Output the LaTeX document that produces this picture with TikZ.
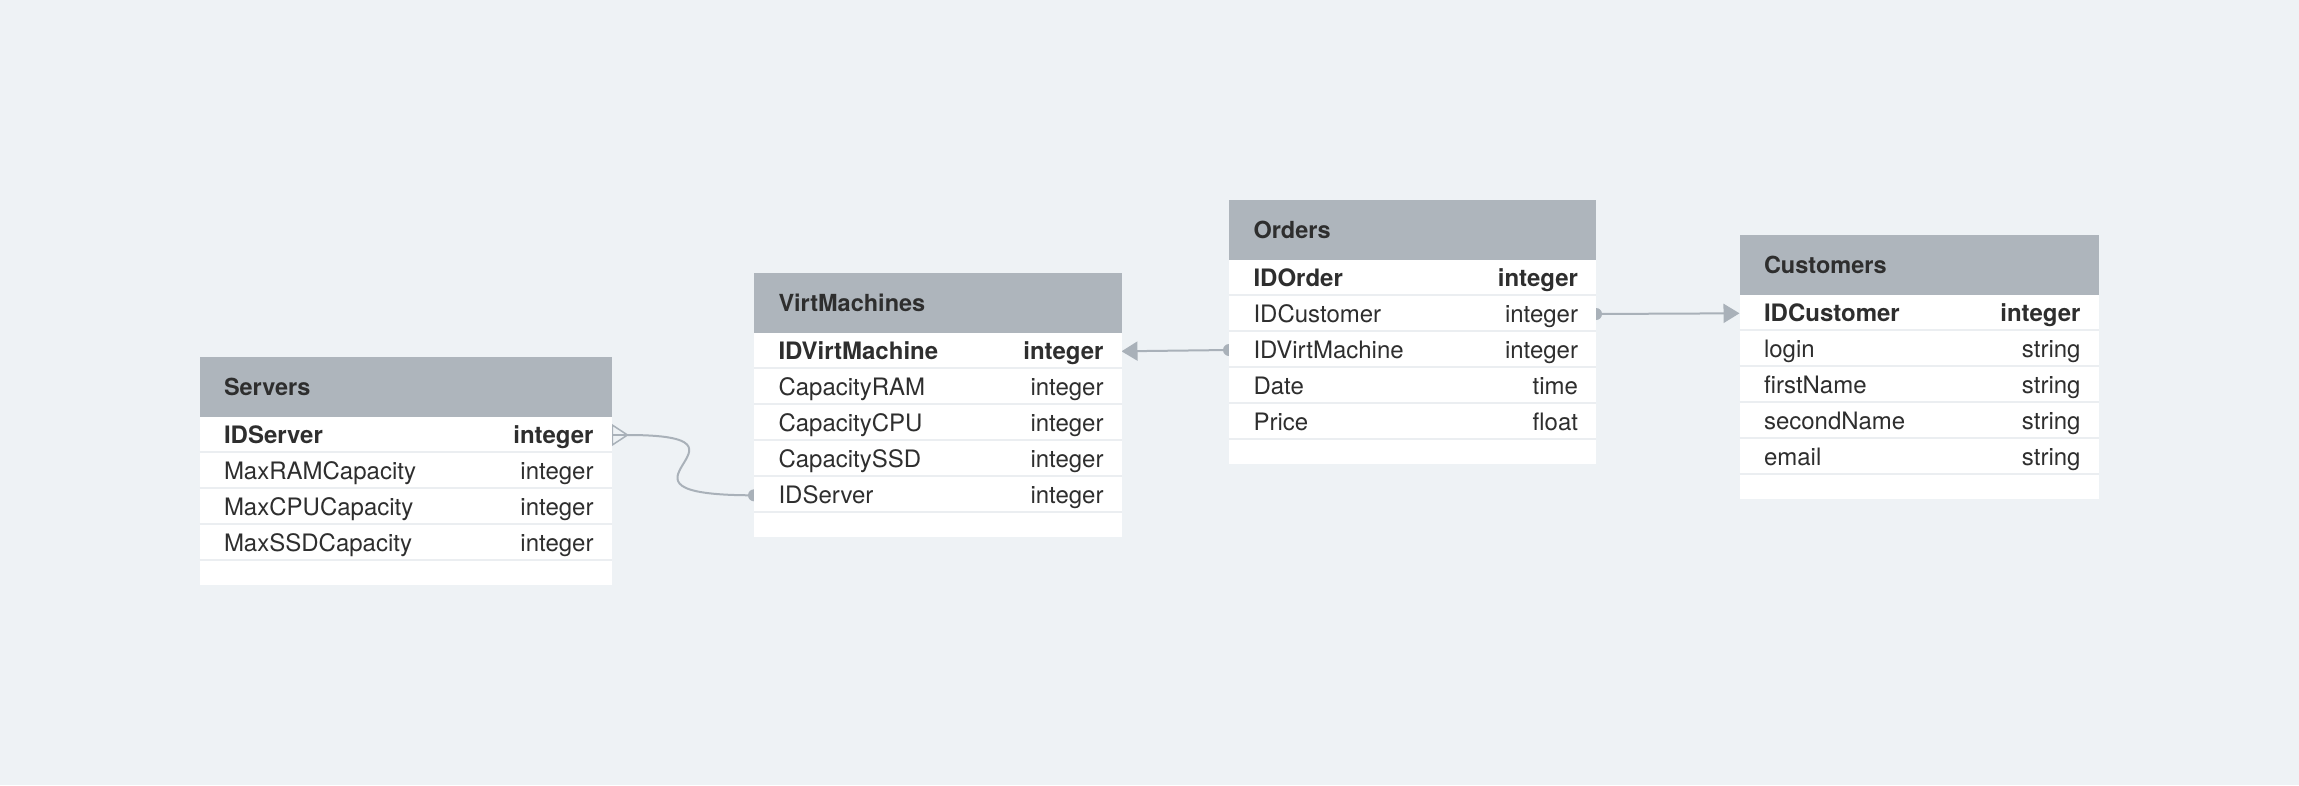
\documentclass[tikz,border=0pt]{standalone}
\usepackage{fontspec}
\setmainfont{TeX Gyre Heros}
\usetikzlibrary{calc,arrows.meta}
\definecolor{bgc}{HTML}{EEF2F5}
\definecolor{hdrc}{HTML}{AEB5BC}
\definecolor{connc}{HTML}{A9B1B9}
\definecolor{sepc}{HTML}{EBEEF1}
\definecolor{txtc}{HTML}{2E2E2E}
\pgfdeclarelayer{back}
\pgfdeclarelayer{links}
\pgfsetlayers{back,links,main}
\newcommand\erow[7]{%
  \node[rowbox, minimum width=#4] (#1) at (#2,#3) {};
  \node[txt, anchor=base west] (#1-f) at ($(#1.west)+(24.5,8.6)$) {#7{#5}};
  \node[txt, anchor=base east] (#1-t) at ($(#1.east)+(-18,8.6)$) {#7{#6}};
  \draw[sep] ($(#1.south west)+(0,-1)$) -- ($(#1.south east)+(0,-1)$);}
\newcommand\ehead[6]{% name, x, y, w, bodyheight, title
  \node[hdr, minimum width=#4] (#1) at (#2,#3) {};
  \node[ttl, anchor=base west] (#1-title) at ($(#1.west)+(24.5,8.4)$) {#6};
  \node[bodybox, minimum width=#4, minimum height=#5] (#1-body) at ($(#1.south west)$) {};}
\begin{document}
\begin{tikzpicture}[x=1pt,y=-1pt,
  hdr/.style={fill=hdrc, draw=none, inner sep=0, outer sep=0, anchor=north west, minimum height=60},
  bodybox/.style={fill=white, draw=none, inner sep=0, outer sep=0, anchor=north west},
  rowbox/.style={draw=none, inner sep=0, outer sep=0, anchor=north west, minimum height=36},
  txt/.style={inner sep=0, outer sep=0, text=txtc, font=\fontsize{24}{29}\selectfont},
  ttl/.style={txt, font=\fontsize{23.5}{28}\selectfont\bfseries},
  sep/.style={draw=sepc, line width=2pt},
  conn/.style={draw=connc, line width=2pt},
  crow/.style={draw=connc, line width=1.5pt},
  dotc/.style={fill=connc, draw=none, circle, inner sep=0, minimum size=12}]
\begin{pgfonlayer}{back}
\fill[bgc] (0,0) rectangle (2299,785);
\end{pgfonlayer}
\useasboundingbox (0,0) rectangle (2299,785);

% Servers
\ehead{sv}{199.5}{357}{412}{168}{Servers}
\erow{sv-id}{199.5}{417}{412}{IDServer}{integer}{\bfseries}
\erow{sv-ram}{199.5}{453}{412}{MaxRAMCapacity}{integer}{}
\erow{sv-cpu}{199.5}{489}{412}{MaxCPUCapacity}{integer}{}
\erow{sv-ssd}{199.5}{525}{412}{MaxSSDCapacity}{integer}{}

% VirtMachines
\ehead{vm}{754}{273.3}{367.5}{204}{VirtMachines}
\erow{vm-id}{754}{333.3}{367.5}{IDVirtMachine}{integer}{\bfseries}
\erow{vm-ram}{754}{369.3}{367.5}{CapacityRAM}{integer}{}
\erow{vm-cpu}{754}{405.3}{367.5}{CapacityCPU}{integer}{}
\erow{vm-ssd}{754}{441.3}{367.5}{CapacitySSD}{integer}{}
\erow{vm-srv}{754}{477.3}{367.5}{IDServer}{integer}{}

% Orders
\ehead{ord}{1229}{200}{367}{204}{Orders}
\erow{ord-id}{1229}{260}{367}{IDOrder}{integer}{\bfseries}
\erow{ord-cu}{1229}{296}{367}{IDCustomer}{integer}{}
\erow{ord-vm}{1229}{332}{367}{IDVirtMachine}{integer}{}
\erow{ord-date}{1229}{368}{367}{Date}{time}{}
\erow{ord-price}{1229}{404}{367}{Price}{float}{}

% Customers
\ehead{cu}{1739.5}{235.3}{359}{204}{Customers}
\erow{cu-id}{1739.5}{295.3}{359}{IDCustomer}{integer}{\bfseries}
\erow{cu-login}{1739.5}{331.3}{359}{login}{string}{}
\erow{cu-first}{1739.5}{367.3}{359}{firstName}{string}{}
\erow{cu-second}{1739.5}{403.3}{359}{secondName}{string}{}
\erow{cu-email}{1739.5}{439.3}{359}{email}{string}{}

% Connectors
\begin{pgfonlayer}{links}
\coordinate (cf) at ($(sv-id.east)+(16,0)$);
\draw[crow] ($(sv-id.east)+(0.75,-10)$) -- (cf) -- ($(sv-id.east)+(0.75,10)$) -- cycle;
\draw[crow] (sv-id.east) -- (cf);
\draw[conn] (cf) .. controls +(152,0) and +(-174,0) .. (vm-srv.west);
\node[dotc] (d1) at (vm-srv.west) {};

\draw[conn, -{Triangle[length=16pt,width=19pt]}] (ord-vm.west) -- (vm-id.east);
\node[dotc] (d2) at (ord-vm.west) {};

\draw[conn, -{Triangle[length=16pt,width=19pt]}] (ord-cu.east) -- (cu-id.west);
\node[dotc] (d3) at (ord-cu.east) {};
\end{pgfonlayer}
\end{tikzpicture}
\end{document}
